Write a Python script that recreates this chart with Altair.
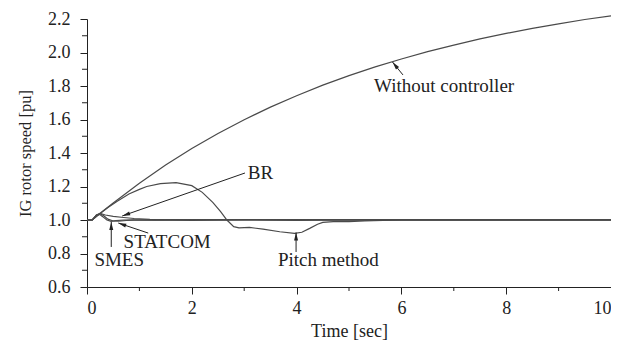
import math
import altair as alt
import pandas as pd

# ---- series ----
without_t = [0, 0.1, 0.25, 0.5, 1, 1.5, 2, 2.5, 3, 3.5, 4, 4.5, 5, 5.5, 6, 6.5, 7, 7.5, 8, 8.5, 9, 9.5, 10]
without_v = [1.0, 1.0, 1.04, 1.102, 1.22, 1.328, 1.427, 1.517, 1.599, 1.674, 1.742, 1.805, 1.862,
             1.914, 1.961, 2.005, 2.044, 2.081, 2.114, 2.144, 2.171, 2.197, 2.219]

pitch_t = [0, 0.1, 0.25, 0.4, 0.57, 0.8, 1.0, 1.14, 1.4, 1.7, 2.0, 2.2, 2.4, 2.55, 2.67, 2.8, 2.9,
           3.1, 3.36, 3.68, 3.96, 4.1, 4.25, 4.4, 4.5, 4.7, 5.0, 5.3, 6.0, 7, 8, 9, 10]
pitch_v = [1.0, 1.0, 1.038, 1.075, 1.11, 1.155, 1.183, 1.2, 1.217, 1.223, 1.205, 1.165, 1.105,
           1.05, 1.0, 0.96, 0.953, 0.956, 0.945, 0.93, 0.92, 0.927, 0.95, 0.975, 0.986, 0.99,
           0.99, 0.995, 1.0, 1.0, 1.0, 1.0, 1.0]

br_t = [0, 0.1, 0.18, 0.25, 0.35, 0.5, 0.7, 0.9, 1.2, 1.6, 2.0, 3.0, 4.0, 5.0, 6.0, 8.0, 10.0]
br_v = [1.0, 1.0, 1.03, 1.04, 1.03, 1.022, 1.015, 1.009, 1.004, 1.002, 1.002, 1.002, 1.002,
        1.002, 1.002, 1.002, 1.002]

statcom_t = [0, 0.1, 0.18, 0.25, 0.32, 0.4, 0.5, 0.6, 0.75, 0.9, 1.2, 1.6, 2, 2.5, 3, 3.5, 4,
             4.5, 5, 6, 7, 8, 9, 10]
statcom_v = [1.0, 1.0, 1.03, 1.038, 1.025, 1.005, 0.994, 0.993, 0.997, 0.999, 1.001, 0.999,
             0.997, 0.999, 1.001, 0.999, 0.998, 0.999, 0.999, 0.999, 0.999, 0.999, 0.999, 0.999]

smes_t = [0, 0.1, 0.18, 0.24, 0.3, 0.38, 0.46, 0.55, 0.7, 0.9, 1.3, 2, 3, 4, 5, 6, 8, 10]
smes_v = [1.0, 1.0, 1.028, 1.034, 1.02, 1.0, 0.992, 0.996, 1.0, 1.001, 0.999, 1.0, 1.0, 1.0,
          1.0, 1.0, 1.0, 1.0]

x_major = [0, 2, 4, 6, 8, 10]
x_minor = [1, 3, 5, 7, 9]
y_major = [0.6, 0.8, 1.0, 1.2, 1.4, 1.6, 1.8, 2.0, 2.2]
y_minor = [0.7, 0.9, 1.1, 1.3, 1.5, 1.7, 1.9, 2.1]

# annotations (data units)
label_text = ["Without controller", "BR", "STATCOM", "SMES", "Pitch method"]
label_t = [6.815, 3.31, 1.53, 0.615, 4.606]
label_v = [1.80, 1.28, 0.866, 0.764, 0.761]
arrow_t0 = [6.03, 3.015, 1.168, 0.463, 3.99]
arrow_v0 = [1.866, 1.2806, 0.922, 0.839, 0.809]
arrow_t1 = [5.83, 0.672, 0.597, 0.463, 3.99]
arrow_v1 = [1.943, 1.024, 0.982, 0.988, 0.925]

W, H = 524, 268
FONT = "Liberation Serif"
LINE = "#4a4a4a"
INK = "#222222"

rows = []
for name, ts, vs in [("Without controller", without_t, without_v),
                     ("Pitch method", pitch_t, pitch_v),
                     ("BR", br_t, br_v),
                     ("STATCOM", statcom_t, statcom_v),
                     ("SMES", smes_t, smes_v)]:
    for i, (t, v) in enumerate(zip(ts, vs)):
        rows.append({"series": name, "t": t, "val": v, "i": i})
df = pd.DataFrame(rows)

xs = alt.Scale(domain=[0, 10], nice=False, zero=False)
ys = alt.Scale(domain=[0.6, 2.2], nice=False, zero=False)
xaxis = alt.Axis(values=x_major, title="Time [sec]", format="d")
yaxis = alt.Axis(values=y_major, title="IG rotor speed [pu]", format=".1f")

lines = alt.Chart(df).mark_line(color=LINE, strokeWidth=1.2).encode(
    x=alt.X("t:Q", scale=xs, axis=xaxis),
    y=alt.Y("val:Q", scale=ys, axis=yaxis),
    detail="series:N",
    order="i:Q",
)

ymin_df = pd.DataFrame({"val": y_minor})
ymin = alt.Chart(ymin_df).mark_rule(color=INK, strokeWidth=1).encode(
    y=alt.Y("val:Q", scale=ys, axis=yaxis),
    x=alt.value(-5), x2=alt.value(0),
)
xmin_df = pd.DataFrame({"t": x_minor})
xmin = alt.Chart(xmin_df).mark_rule(color=INK, strokeWidth=1).encode(
    x=alt.X("t:Q", scale=xs, axis=xaxis),
    y=alt.value(H), y2=alt.value(H + 4),
)

ann = pd.DataFrame({"label": label_text, "lt": label_t, "lv": label_v,
                    "t0": arrow_t0, "v0": arrow_v0, "t1": arrow_t1, "v1": arrow_v1})
ang = []
for a, b, c, d in zip(arrow_t0, arrow_v0, arrow_t1, arrow_v1):
    dx = (c - a) * W / 10.0
    dy = -(d - b) * H / 1.6
    ang.append((math.degrees(math.atan2(dx, -dy)) + 360) % 360)
ann["angle"] = ang

texts = alt.Chart(ann).mark_text(font=FONT, fontSize=19, color=INK,
                                 align="center", baseline="middle").encode(
    x=alt.X("lt:Q", scale=xs, axis=xaxis),
    y=alt.Y("lv:Q", scale=ys, axis=yaxis),
    text="label:N",
)
arrows = alt.Chart(ann).mark_rule(color=INK, strokeWidth=1).encode(
    x=alt.X("t0:Q", scale=xs, axis=xaxis),
    y=alt.Y("v0:Q", scale=ys, axis=yaxis),
    x2="t1:Q", y2="v1:Q",
)
heads = alt.Chart(ann).mark_point(
    shape="M0,0L0.5,2L-0.5,2Z", filled=True, color=INK, opacity=1, size=64, strokeWidth=0
).encode(
    x=alt.X("t1:Q", scale=xs, axis=xaxis),
    y=alt.Y("v1:Q", scale=ys, axis=yaxis),
    angle=alt.Angle("angle:Q", scale=None),
)

chart = alt.layer(lines, ymin, xmin, arrows, heads, texts).properties(
    width=W, height=H,
    autosize=alt.AutoSizeParams(type="none"),
    padding={"left": 79, "top": 11, "right": 0, "bottom": 54},
).configure_view(stroke=None).configure_axis(
    grid=False,
    domainColor=INK, tickColor=INK, domainWidth=1, tickWidth=1,
    labelFont=FONT, labelFontSize=18, labelColor=INK,
    titleFont=FONT, titleFontSize=18, titleColor=INK, titleFontWeight="normal",
).configure_axisY(
    tickSize=7, labelPadding=10, titleFontSize=16.5, titlePadding=14,
).configure_axisX(
    tickSize=7, labelPadding=5, titlePadding=5,
)

chart.save("out.html", embed_options={"renderer": "svg", "actions": False})
